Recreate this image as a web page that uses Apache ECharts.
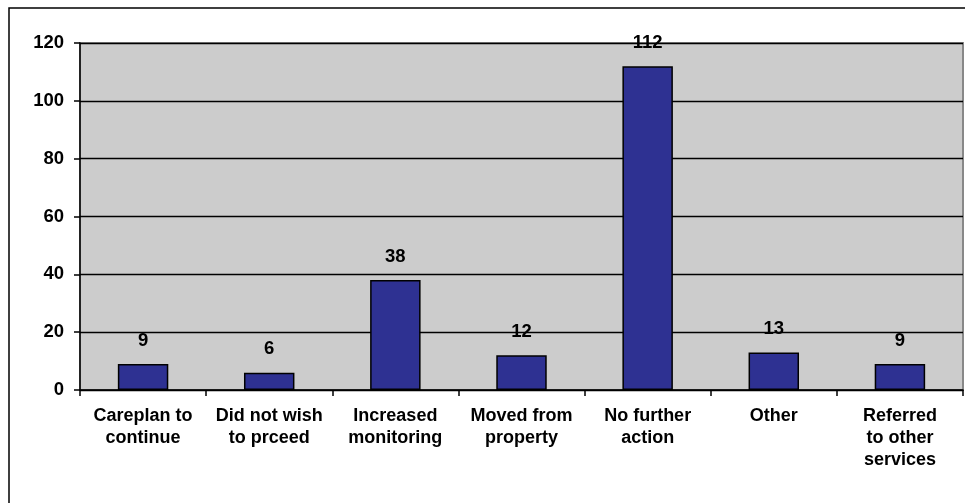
<!DOCTYPE html>
<html>
<head>
<meta charset="utf-8">
<script src="https://cdn.jsdelivr.net/npm/echarts@6/dist/echarts.min.js"></script>
<style>html,body{margin:0;padding:0;background:#fff;}#c{width:965px;height:503px;}</style>
</head>
<body>
<div id="c"></div>
<script>
const categories = ["Careplan to\ncontinue", "Did not wish\nto prceed", "Increased\nmonitoring", "Moved from\nproperty", "No further\naction", "Other", "Referred\nto other\nservices"];
const values = [9, 6, 38, 12, 112, 13, 9];
const yTicks = [0, 20, 40, 60, 80, 100, 120];

const FONT = '"Liberation Sans", Arial, Helvetica, sans-serif';
const chart = echarts.init(document.getElementById('c'), null, {renderer: 'canvas'});
chart.setOption({
  animation: false,
  backgroundColor: '#ffffff',
  graphic: [{
    type: 'rect', z: -10, silent: true,
    shape: {x: 9, y: 8, width: 1100, height: 700},
    style: {fill: 'none', stroke: '#000', lineWidth: 1.5}
  }],
  grid: {
    left: 80, right: 2, top: 43, bottom: 113,
    show: true, backgroundColor: '#cccccc', borderColor: '#888888', borderWidth: 2
  },
  xAxis: {
    type: 'category',
    data: categories,
    axisLine: {show: true, lineStyle: {color: '#000', width: 1.5}},
    axisTick: {show: true, length: 6, alignWithLabel: false, lineStyle: {color: '#000', width: 1.5}},
    axisLabel: {
      interval: 0, margin: 15, color: '#000',
      fontFamily: FONT, fontWeight: 'bold', fontSize: 18, lineHeight: 22, align: 'center'
    },
    splitLine: {show: false}
  },
  yAxis: {
    type: 'value',
    min: yTicks[0], max: yTicks[yTicks.length - 1], interval: 20,
    axisLine: {show: true, lineStyle: {color: '#000', width: 1.5}},
    axisTick: {show: true, length: 6, lineStyle: {color: '#000', width: 1.5}},
    axisLabel: {margin: 16, color: '#000', fontFamily: FONT, fontWeight: 'bold', fontSize: 18.5},
    splitLine: {show: true, lineStyle: {color: '#000', width: 1.4}}
  },
  series: [{
    type: 'bar',
    data: values,
    barWidth: '40%',
    itemStyle: {color: '#2e3192', borderColor: '#000', borderWidth: 1.5},
    label: {
      show: true, position: 'top', distance: 14, color: '#000',
      fontFamily: FONT, fontWeight: 'bold', fontSize: 18.5
    }
  }]
});
</script>
</body>
</html>
